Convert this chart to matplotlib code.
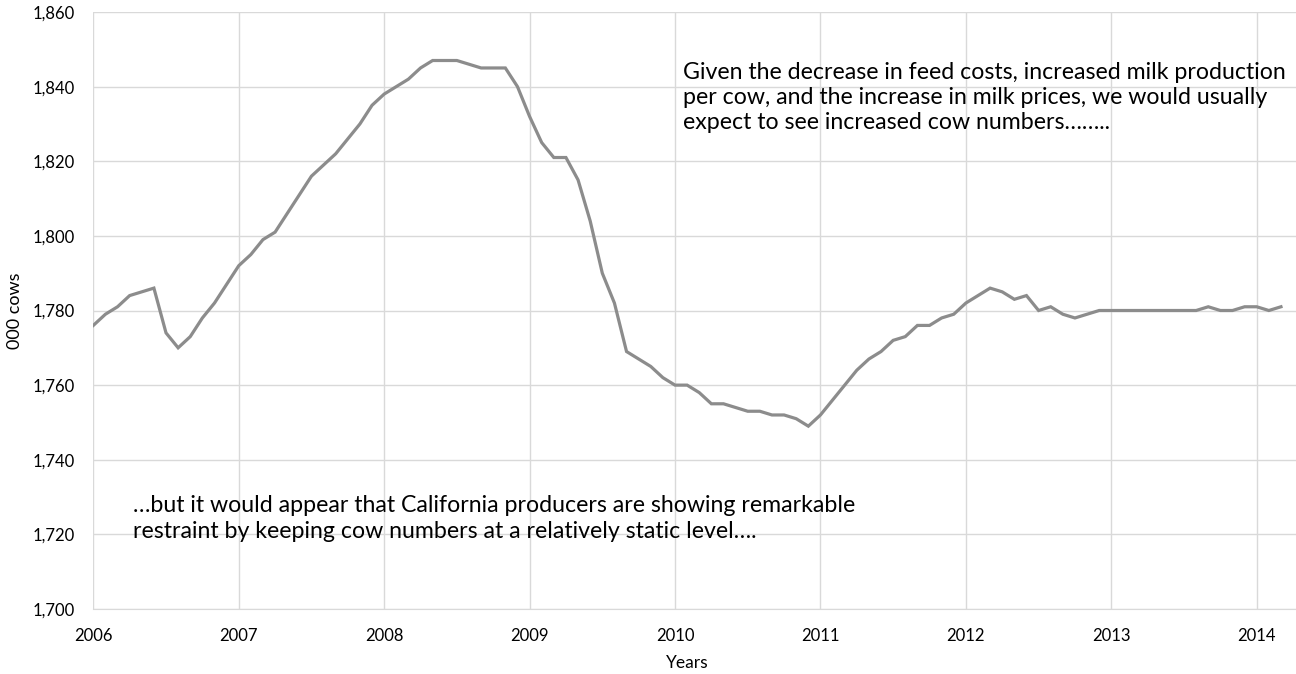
import matplotlib
matplotlib.use("Agg")
import matplotlib.pyplot as plt
from matplotlib.ticker import FuncFormatter

# California dairy cow numbers, monthly, Jan 2006 - Mar 2014 ('000 cows)
start_year = 2006
cows = [
    1776, 1779, 1781, 1784, 1785, 1786, 1774, 1770, 1773, 1778, 1782, 1787,  # 2006
    1792, 1795, 1799, 1801, 1806, 1811, 1816, 1819, 1822, 1826, 1830, 1835,  # 2007
    1838, 1840, 1842, 1845, 1847, 1847, 1847, 1846, 1845, 1845, 1845, 1840,  # 2008
    1832, 1825, 1821, 1821, 1815, 1804, 1790, 1782, 1769, 1767, 1765, 1762,  # 2009
    1760, 1760, 1758, 1755, 1755, 1754, 1753, 1753, 1752, 1752, 1751, 1749,  # 2010
    1752, 1756, 1760, 1764, 1767, 1769, 1772, 1773, 1776, 1776, 1778, 1779,  # 2011
    1782, 1784, 1786, 1785, 1783, 1784, 1780, 1781, 1779, 1778, 1779, 1780,  # 2012
    1780, 1780, 1780, 1780, 1780, 1780, 1780, 1780, 1781, 1780, 1780, 1781,  # 2013
    1781, 1780, 1781,                                                        # 2014
]
year_ticks = list(range(2006, 2015))
y_ticks = list(range(1700, 1861, 20))

note_top = ["Given the decrease in feed costs, increased milk production",
            "per cow, and the increase in milk prices, we would usually",
            "expect to see increased cow numbers…….."]
note_bottom = ["…but it would appear that California producers are showing remarkable",
               "restraint by keeping cow numbers at a relatively static level…."]

plt.rcParams['font.family'] = ['Lato', 'DejaVu Sans']

W, H = 1296, 674
x = [start_year + i / 12 for i in range(len(cows))]

fig = plt.figure(figsize=(W / 100, H / 100), dpi=100)
ax = fig.add_axes([93.3 / W, 1 - 609 / H, 1 - 93.3 / W, (609 - 12) / H])

ax.plot(x, cows, color="#8c8c8c", lw=2.3, solid_joinstyle="miter")

ax.set_xlim(2006, 2014.27)
ax.set_ylim(1700, 1860)
ax.set_xticks(year_ticks)
ax.set_yticks(y_ticks)
ax.yaxis.set_major_formatter(FuncFormatter(lambda v, p: f"{int(v):,}"))
ax.grid(True, color="#d9d9d9", lw=1)
ax.set_axisbelow(True)
for s in ["top", "right", "left"]:
    ax.spines[s].set_visible(False)
ax.spines["bottom"].set_color("#d9d9d9")
ax.tick_params(length=0, labelsize=12, colors="#000000")
ax.tick_params(axis="x", pad=14)
ax.tick_params(axis="y", pad=13)

# axis titles
fig.text(687.5 / W, 1 - 663 / H, "Years", fontsize=12.5, ha="center", va="center")
fig.text(14.5 / W, 1 - 311 / H, "000 cows", fontsize=13, ha="center", va="center",
         rotation=90)

# annotations, one text per line (baselines in pixels)
for i, line in enumerate(note_top):
    fig.text(683 / W, 1 - (79 + 25 * i) / H, line, fontsize=16.7, va="baseline", ha="left")
for i, line in enumerate(note_bottom):
    fig.text(133 / W, 1 - (512 + 26 * i) / H, line, fontsize=16.7, va="baseline", ha="left")

fig.savefig("out.png", dpi=100)
